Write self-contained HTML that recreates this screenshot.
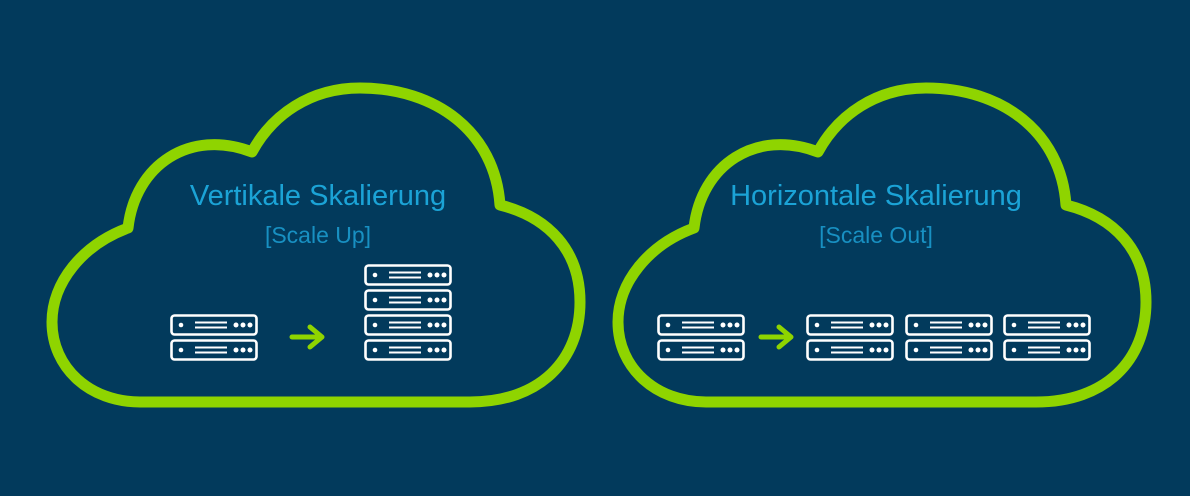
<!DOCTYPE html>
<html><head><meta charset="utf-8"><style>
html,body{margin:0;padding:0;background:#023a5c;}
svg{display:block}
</style></head><body>
<svg width="1190" height="496" viewBox="0 0 1190 496" xmlns="http://www.w3.org/2000/svg">
<rect width="1190" height="496" fill="#023a5c"/>
<defs>
<g id="u">
<rect x="1.5" y="1.5" width="85" height="19" rx="3" fill="none" stroke="#fff" stroke-width="2.6"/>
<circle cx="11" cy="11" r="2.3" fill="#fff"/>
<line x1="25" y1="8.5" x2="57" y2="8.5" stroke="#fff" stroke-width="2"/>
<line x1="25" y1="13.5" x2="57" y2="13.5" stroke="#fff" stroke-width="2"/>
<circle cx="66" cy="11" r="2.5" fill="#fff"/>
<circle cx="73" cy="11" r="2.5" fill="#fff"/>
<circle cx="80" cy="11" r="2.5" fill="#fff"/>
</g>
<g id="s2"><use href="#u"/><use href="#u" y="25"/></g>
<g id="arr"><path d="M0 0 H28 M18 -10 L30 0 L18 10" fill="none" stroke="#8fd400" stroke-width="5" stroke-linecap="round" stroke-linejoin="round"/></g>
<path id="cloud" d="M140 402 L470 402 C540 402 580 360 580 302 C580 250 548 217 500 205 C495 132 436 88 360 88 C310 88 272 115 252 152 C190 128 135 165 128 228 C82 245 52 283 52 322 C52 368 90 402 140 402 Z" fill="none" stroke="#8fd400" stroke-width="11" stroke-linejoin="round"/>
</defs>
<use href="#cloud"/>
<use href="#cloud" x="566"/>
<g font-family="'Liberation Sans Narrow','Liberation Sans',sans-serif" fill="#1ba3d6" text-anchor="middle">
<text x="318" y="205" font-size="29">Vertikale Skalierung</text>
<text x="318" y="243" font-size="23" fill="#1890c2">[Scale Up]</text>
<text x="876" y="205" font-size="29">Horizontale Skalierung</text>
<text x="876" y="243" font-size="23" fill="#1890c2">[Scale Out]</text>
</g>
<use href="#s2" x="170" y="314"/>
<use href="#arr" x="292" y="337"/>
<use href="#s2" x="364" y="264"/>
<use href="#s2" x="364" y="314"/>
<use href="#s2" x="657" y="314"/>
<use href="#arr" x="761" y="337"/>
<use href="#s2" x="806" y="314"/>
<use href="#s2" x="905" y="314"/>
<use href="#s2" x="1003" y="314"/>
</svg>
</body></html>
